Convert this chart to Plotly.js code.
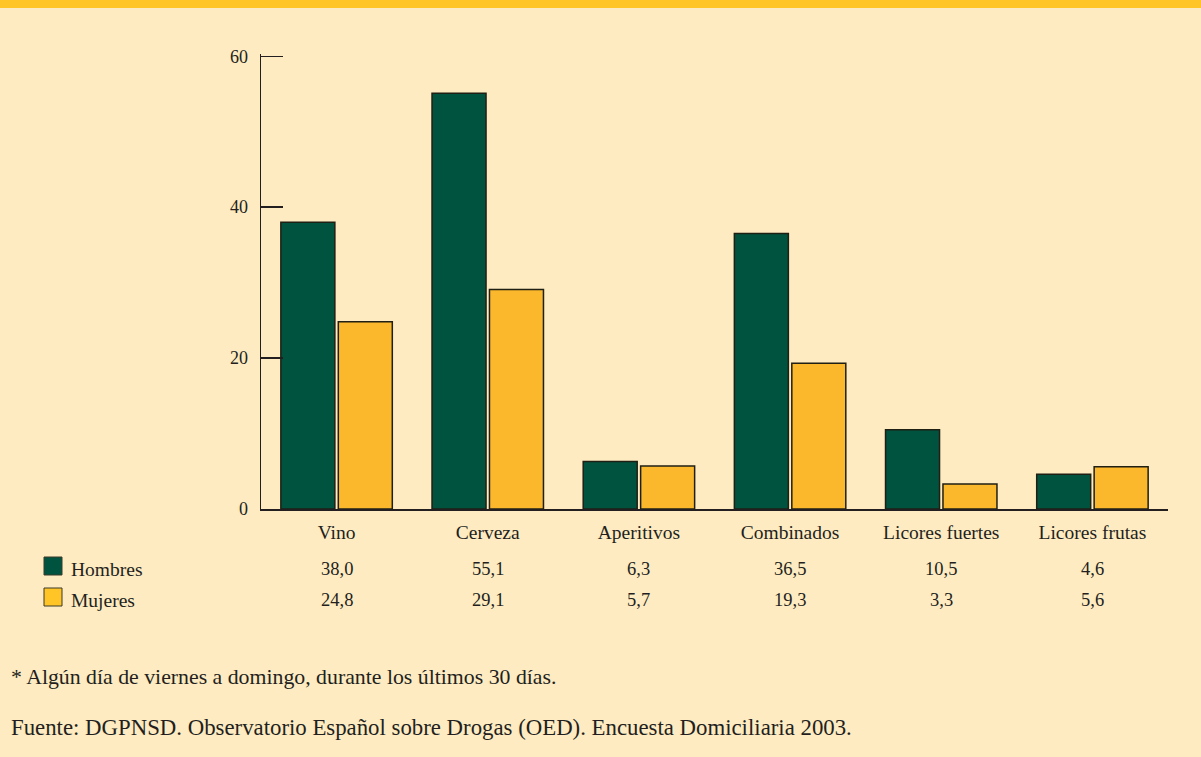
<!DOCTYPE html>
<html>
<head>
<meta charset="utf-8">
<script src="https://cdn.plot.ly/plotly-3.0.1.min.js"></script>
<style>
html,body{margin:0;padding:0;background:#FEEBC1;}
#chart{width:1201px;height:757px;}
</style>
</head>
<body>
<div id="chart"></div>
<script>
const categories = ["Vino", "Cerveza", "Aperitivos", "Combinados", "Licores fuertes", "Licores frutas"];
const hombres = [38.0, 55.1, 6.3, 36.5, 10.5, 4.6];
const mujeres = [24.8, 29.1, 5.7, 19.3, 3.3, 5.6];
const seriesNames = ["Hombres", "Mujeres"];
const yTicks = [0, 20, 40, 60];
const footnote = "* Algún día de viernes a domingo, durante los últimos 30 días.";
const source = "Fuente: DGPNSD. Observatorio Español sobre Drogas (OED). Encuesta Domiciliaria 2003.";

const GREEN = "#00533F";
const ORANGE = "#FBB82C";
const BG = "#FEEBC1";
const FONT = "Liberation Serif";
const INK = "#231f20";
const W = 1201, H = 757;
const M = {l: 261, r: 33, t: 54, b: 248};

const fmt = v => v.toFixed(1).replace(".", ",");

const traces = [
  {type: "bar", name: seriesNames[0], x: categories, y: hombres,
   marker: {color: GREEN, line: {color: "#1f1f14", width: 1.5}}, hoverinfo: "x+y"},
  {type: "bar", name: seriesNames[1], x: categories, y: mujeres,
   marker: {color: ORANGE, line: {color: "#1f1f14", width: 1.5}}, hoverinfo: "x+y"}
];

const py = p => (H - M.b - p) / (H - M.t - M.b);
const px = p => (p - M.l) / (W - M.l - M.r);

const LABEL = {family: FONT, size: 19.5, color: INK};
const NUM = {family: FONT, size: 18.5, color: INK};
const NOTE1 = {family: FONT, size: 21.8, color: INK};
const NOTE2 = {family: FONT, size: 22.8, color: INK};
const annotations = [];
const shapes = [
  {type: "rect", xref: "paper", yref: "paper", x0: px(0), x1: px(W), y0: py(0), y1: py(8),
   fillcolor: "#FFC425", line: {width: 0}, layer: "above"}
];
const rows = [hombres, mujeres];
const rowY = [569, 600];
const rowColors = [GREEN, "#FFC425"];
rows.forEach((arr, r) => {
  arr.forEach((v, i) => {
    annotations.push({x: categories[i], xref: "x", y: py(rowY[r]), yref: "paper",
      text: fmt(v), showarrow: false, xanchor: "center", yanchor: "middle", font: NUM});
  });
  annotations.push({x: px(69), xref: "paper", y: py(rowY[r]), yref: "paper",
    text: seriesNames[r], showarrow: false, xanchor: "left", yanchor: "middle", font: LABEL});
  shapes.push({type: "rect", xref: "paper", yref: "paper",
    x0: px(44), x1: px(62), y0: py(rowY[r] - 12 + 18), y1: py(rowY[r] - 12),
    fillcolor: rowColors[r], line: {color: "#3a3a2a", width: 1}});
});
annotations.push({x: px(9), xref: "paper", y: py(677), yref: "paper", text: footnote,
  showarrow: false, xanchor: "left", yanchor: "middle", font: NOTE1});
annotations.push({x: px(9), xref: "paper", y: py(727), yref: "paper", text: source,
  showarrow: false, xanchor: "left", yanchor: "middle", font: NOTE2});

const layout = {
  width: W, height: H,
  margin: M,
  paper_bgcolor: BG, plot_bgcolor: BG,
  showlegend: false,
  barmode: "group",
  bargap: 0.24,
  bargroupgap: 0.06,
  font: LABEL,
  xaxis: {
    type: "category", showline: true, linecolor: INK, linewidth: 1.5,
    ticks: "", showgrid: false, zeroline: false, fixedrange: true,
    ticklabelstandoff: 5,
    tickfont: LABEL
  },
  yaxis: {
    range: [0, 60.3], tickvals: yTicks, ticktext: yTicks.map(String),
    showline: true, linecolor: INK, linewidth: 1.5,
    ticks: "inside", ticklen: 22, tickwidth: 1.5, tickcolor: INK,
    ticklabelstandoff: 8,
    showgrid: false, zeroline: false, fixedrange: true,
    tickfont: {family: FONT, size: 18, color: INK}
  },
  annotations: annotations,
  shapes: shapes
};

Plotly.newPlot("chart", traces, layout, {displayModeBar: false, staticPlot: true});
</script>
</body>
</html>
